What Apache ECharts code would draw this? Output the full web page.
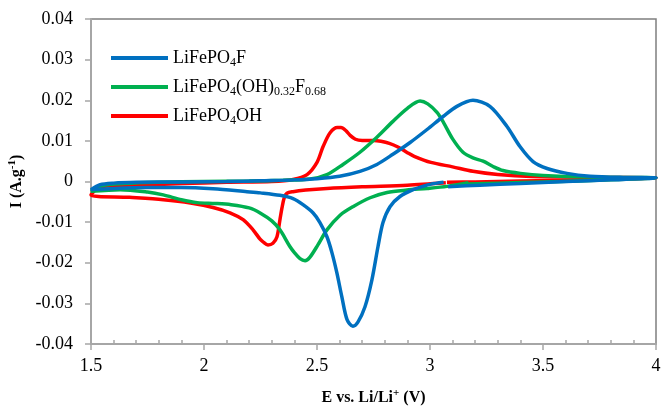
<!DOCTYPE html>
<html>
<head>
<meta charset="utf-8">
<script src="https://cdn.jsdelivr.net/npm/echarts@6/dist/echarts.min.js"></script>
<style>
  html, body { margin: 0; padding: 0; background: #fff; }
  #chart { width: 662px; height: 407px; }
</style>
</head>
<body>
<div id="chart"></div>
<script>
// cyclic voltammograms, points listed in scan order (V, A/g)
const blueV = [3.06, 3.0, 2.969, 2.925, 2.867, 2.823, 2.792, 2.77, 2.743, 2.712, 2.681, 2.659, 2.633, 2.61, 2.588, 2.566, 2.544, 2.513, 2.482, 2.438, 2.394, 2.336, 2.25, 2.19, 2.04, 1.9, 1.75, 1.6, 1.5,
  1.54, 1.6, 1.7, 1.9, 2.1, 2.25, 2.4, 2.5, 2.6, 2.69, 2.765, 2.836, 2.912, 2.987, 3.058, 3.119, 3.19, 3.265, 3.34, 3.398, 3.456, 3.518, 3.606, 3.708, 3.854, 4.0,
  3.8, 3.6, 3.4, 3.22, 3.08];
const blueI = [-0.0002, -0.0007, -0.0012, -0.002, -0.0037, -0.0062, -0.0101, -0.016, -0.0242, -0.0309, -0.0346, -0.0356, -0.034, -0.0284, -0.0225, -0.0175, -0.0136, -0.0101, -0.0077, -0.0057, -0.0042, -0.0034, -0.0028, -0.0025, -0.0018, -0.0015, -0.0015, -0.0017, -0.002,
  -0.0008, -0.0004, -0.0002, -0.0001, 0.0, 0.0002, 0.0004, 0.0007, 0.0013, 0.0025, 0.0042, 0.0067, 0.0096, 0.0128, 0.016, 0.0185, 0.02, 0.0185, 0.0136, 0.0086, 0.0049, 0.0032, 0.002, 0.0013, 0.001, 0.0009,
  0.0004, 0.0, -0.0005, -0.0009, -0.0013];

const greenV = [3.17, 3.075, 2.987, 2.898, 2.81, 2.735, 2.659, 2.602, 2.544, 2.504, 2.469, 2.447, 2.425, 2.4, 2.38, 2.336, 2.3, 2.25, 2.2, 2.12, 2.05, 1.97, 1.9, 1.82, 1.75, 1.63, 1.5,
  1.55, 1.65, 1.8, 2.0, 2.2, 2.35, 2.47, 2.544, 2.615, 2.69, 2.765, 2.836, 2.9, 2.956, 2.99, 3.031, 3.06, 3.1, 3.146, 3.19, 3.235, 3.279, 3.323, 3.4, 3.5, 3.7, 4.0,
  3.8, 3.5, 3.3, 3.17];
const greenI = [-0.0003, -0.0012, -0.0017, -0.0021, -0.0027, -0.004, -0.0062, -0.0083, -0.0119, -0.0156, -0.0186, -0.0195, -0.019, -0.0175, -0.016, -0.0119, -0.0097, -0.0078, -0.0065, -0.0057, -0.0054, -0.0052, -0.0045, -0.0033, -0.0026, -0.002, -0.0024,
  -0.001, -0.0005, -0.0002, 0.0, 0.0001, 0.0003, 0.0006, 0.0017, 0.0042, 0.0072, 0.0109, 0.0148, 0.018, 0.0198, 0.0191, 0.017, 0.0145, 0.0105, 0.0072, 0.0058, 0.005, 0.0037, 0.0027, 0.002, 0.0015, 0.0011, 0.0009,
  0.0004, -0.0001, -0.0004, -0.0006];

const redV = [3.07, 2.9, 2.7, 2.544, 2.45, 2.394, 2.367, 2.355, 2.345, 2.336, 2.323, 2.305, 2.283, 2.26, 2.248, 2.217, 2.173, 2.115, 2.04, 1.94, 1.82, 1.67, 1.5,
  1.54, 1.6, 1.75, 1.9, 2.1, 2.3, 2.394, 2.456, 2.5, 2.527, 2.558, 2.59, 2.606, 2.63, 2.646, 2.67, 2.7, 2.75, 2.783, 2.82, 2.858, 2.9, 2.93, 3.004, 3.1, 3.19, 3.3, 3.45, 3.75, 4.0,
  3.7, 3.4, 3.2, 3.075];
const redI = [-0.0003, -0.0009, -0.0013, -0.0017, -0.0021, -0.0025, -0.0029, -0.004, -0.0065, -0.0094, -0.0136, -0.0152, -0.0156, -0.0148, -0.0142, -0.0119, -0.0094, -0.0077, -0.0064, -0.0053, -0.0045, -0.0039, -0.0033,
  -0.0013, -0.001, -0.0008, -0.0005, -0.0002, 0.0, 0.0005, 0.0017, 0.0047, 0.0086, 0.012, 0.0133, 0.0133, 0.0124, 0.0114, 0.0104, 0.0101, 0.0101, 0.0099, 0.0094, 0.0085, 0.0071, 0.0062, 0.0047, 0.0036, 0.0025, 0.0017, 0.0012, 0.001, 0.0009,
  0.0004, 0.0001, -0.0001, -0.0002];

const seriesNames = ['LiFePO4F', 'LiFePO4(OH)0.32F0.68', 'LiFePO4OH'];
const legendRich = {
  'LiFePO4F': '{n|LiFePO}{s|4}{n|F}',
  'LiFePO4(OH)0.32F0.68': '{n|LiFePO}{s|4}{n|(OH)}{s|0.32}{n|F}{s|0.68}',
  'LiFePO4OH': '{n|LiFePO}{s|4}{n|OH}'
};

const pairs = (xs, ys) => xs.map((x, i) => [x, ys[i]]);
const serif = 'Liberation Serif';

const chart = echarts.init(document.getElementById('chart'));
const lineSeries = (name, color, xs, ys) => ({
  name: name,
  type: 'line',
  data: pairs(xs, ys),
  symbol: 'none',
  smooth: 0.3,
  lineStyle: { color: color, width: 3.5 },
  itemStyle: { color: color }
});

const option = {
  animation: false,
  grid: {
    left: 91, right: 6, top: 19, bottom: 63,
    outerBoundsMode: 'none',
    show: true, borderColor: '#7f7f7f', borderWidth: 1.5
  },
  legend: {
    orient: 'vertical',
    left: 106, top: 44,
    data: seriesNames,
    icon: 'rect',
    itemWidth: 57, itemHeight: 4, itemGap: 9,
    formatter: name => legendRich[name],
    textStyle: {
      color: '#000',
      fontFamily: serif,
      fontSize: 18,
      rich: {
        n: { fontFamily: serif, fontSize: 18, color: '#000', lineHeight: 22 },
        s: { fontFamily: serif, fontSize: 12, color: '#000', lineHeight: 12, verticalAlign: 'bottom' }
      }
    }
  },
  xAxis: {
    type: 'value',
    min: 1.5, max: 4, interval: 0.5,
    name: '{b|E vs. Li/Li}{p|+}{b| (V)}',
    nameLocation: 'middle',
    nameGap: 44,
    nameTextStyle: {
      rich: {
        b: { fontFamily: serif, fontSize: 16, fontWeight: 'bold', color: '#000', lineHeight: 20 },
        p: { fontFamily: serif, fontSize: 11, fontWeight: 'bold', color: '#000', lineHeight: 11, verticalAlign: 'top' }
      }
    },
    axisLine: { onZero: false, lineStyle: { color: '#a6a6a6', width: 2 } },
    axisTick: { length: 6, lineStyle: { color: '#a6a6a6', width: 1.5 } },
    minorTick: { show: true, splitNumber: 5, length: -4, lineStyle: { color: '#a6a6a6', width: 1.5 } },
    splitLine: { show: false },
    axisLabel: { color: '#000', fontFamily: serif, fontSize: 18, margin: 13 }
  },
  yAxis: {
    type: 'value',
    min: -0.04, max: 0.04, interval: 0.01,
    name: '{b|I (A.g}{p|-1}{b|)}',
    nameLocation: 'middle',
    nameGap: 63,
    nameTextStyle: {
      rich: {
        b: { fontFamily: serif, fontSize: 16, fontWeight: 'bold', color: '#000', lineHeight: 20 },
        p: { fontFamily: serif, fontSize: 11, fontWeight: 'bold', color: '#000', lineHeight: 11, verticalAlign: 'top' }
      }
    },
    axisLine: { onZero: false, lineStyle: { color: '#a6a6a6', width: 2 } },
    axisTick: { length: 6, lineStyle: { color: '#a6a6a6', width: 1.5 } },
    splitLine: { show: false },
    axisLabel: { color: '#000', fontFamily: serif, fontSize: 18, margin: 18 }
  },
  series: [
    lineSeries('LiFePO4OH', '#ff0000', redV, redI),
    lineSeries('LiFePO4(OH)0.32F0.68', '#00b050', greenV, greenI),
    lineSeries('LiFePO4F', '#0070c0', blueV, blueI)
  ]
};
chart.setOption(option);
</script>
</body>
</html>
